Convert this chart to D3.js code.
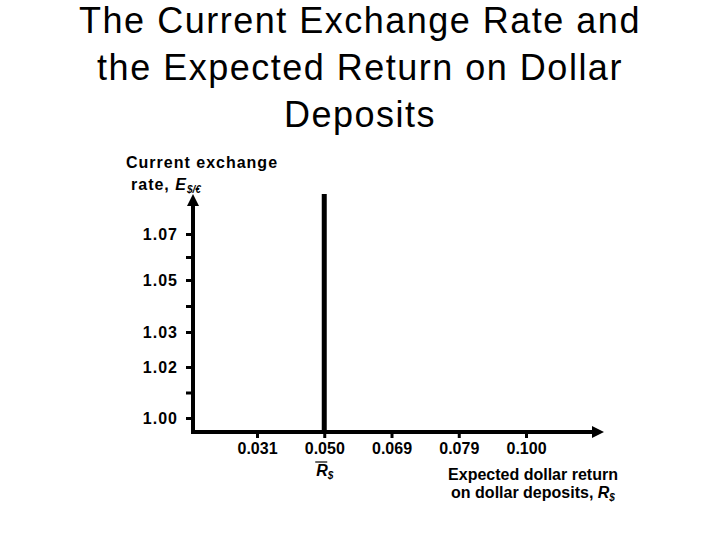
<!DOCTYPE html>
<html>
<head>
<meta charset="utf-8">
<script src="https://cdn.jsdelivr.net/npm/d3@7"></script>
<style>
  body { margin: 0; background: #fff; }
  svg { display: block; font-family: "Liberation Sans", Arial, sans-serif; }
  .axis text { font-size: 16px; font-weight: bold; fill: #000; }
  .y-axis text { letter-spacing: 1px; }
  .axis line { stroke: #000; stroke-width: 3; }
</style>
</head>
<body>
<div id="chart"></div>
<script>
// exchange rate ticks (labelled) and unlabelled minor ticks
const rateTicks = [1.00, 1.02, 1.03, 1.05, 1.07];
const rateMinor = [1.01, 1.04, 1.06];
// expected dollar return ticks
const returnTicks = [0.031, 0.050, 0.069, 0.079, 0.100];
// the dollar deposit return, drawn as a vertical schedule
const dollarReturn = 0.050;

const titleLines = ['The Current Exchange Rate and', 'the Expected Return on Dollar', 'Deposits'];

const width = 720, height = 540;
const origin = {x: 193, y: 432};

const svg = d3.select('#chart')
  .append('svg')
  .attr('width', width)
  .attr('height', height);

// arrow head marker
svg.append('defs').append('marker')
  .attr('id', 'arrow')
  .attr('viewBox', '0 0 10 10')
  .attr('refX', 5).attr('refY', 5)
  .attr('markerWidth', 3).attr('markerHeight', 3)
  .attr('orient', 'auto')
  .append('path')
  .attr('d', 'M0,0L10,5L0,10Z')
  .attr('fill', '#000');

// title
svg.append('text')
  .attr('text-anchor', 'middle')
  .style('font-size', '36px')
  .style('letter-spacing', '1.5px')
  .selectAll('tspan')
  .data(titleLines)
  .join('tspan')
  .attr('x', 360)
  .attr('y', (d, i) => 33 + i * 47)
  .text(d => d);

// the ticks are not evenly spaced on the slide, so the y scale is piecewise
const yScale = d3.scaleLinear()
  .domain(rateTicks)
  .range([418, 367, 332, 280, 234]);

const xScale = d3.scalePoint()
  .domain(returnTicks)
  .range([257, 526]);

const allRate = rateTicks.concat(rateMinor).sort(d3.ascending);

const yAxis = d3.axisLeft(yScale)
  .tickValues(allRate)
  .tickFormat(d => rateTicks.includes(d) ? d.toFixed(2) : '')
  .tickSize(7)
  .tickPadding(8);

const xAxis = d3.axisBottom(xScale)
  .tickFormat(d => d.toFixed(3))
  .tickSize(6)
  .tickPadding(5);

svg.append('g')
  .attr('class', 'axis y-axis')
  .attr('transform', `translate(${origin.x},0)`)
  .call(yAxis)
  .call(g => g.select('.domain').remove());

svg.append('g')
  .attr('class', 'axis x-axis')
  .attr('transform', `translate(0,${origin.y})`)
  .call(xAxis)
  .call(g => g.select('.domain').remove());

// axis lines with arrows
svg.append('line')
  .attr('x1', origin.x).attr('y1', origin.y + 2)
  .attr('x2', origin.x).attr('y2', 200)
  .attr('stroke', '#000').attr('stroke-width', 4)
  .attr('marker-end', 'url(#arrow)');

svg.append('line')
  .attr('x1', origin.x - 2).attr('y1', origin.y)
  .attr('x2', 598).attr('y2', origin.y)
  .attr('stroke', '#000').attr('stroke-width', 4)
  .attr('marker-end', 'url(#arrow)');

// vertical return line
svg.append('line')
  .attr('x1', xScale(dollarReturn)).attr('y1', 194)
  .attr('x2', xScale(dollarReturn)).attr('y2', origin.y)
  .attr('stroke', '#000').attr('stroke-width', 5);

// y axis title
const yTitle = svg.append('g')
  .style('font-size', '16px')
  .style('font-weight', 'bold')
  .style('letter-spacing', '1px');
yTitle.append('text').attr('x', 126).attr('y', 168).text('Current exchange');
const yt2 = yTitle.append('text').attr('x', 131).attr('y', 190);
yt2.append('tspan').text('rate, ');
yt2.append('tspan').style('font-style', 'italic').text('E');
yt2.append('tspan').style('font-style', 'italic').style('font-size', '10px')
  .style('letter-spacing', '0px').attr('dy', 3).text('$/€');

// R$ under the 0.050 tick
const rx = xScale(dollarReturn);
svg.append('line')
  .attr('x1', rx - 9).attr('x2', rx + 3)
  .attr('y1', 462).attr('y2', 462)
  .attr('stroke', '#000').attr('stroke-width', 1.2);
const rLabel = svg.append('text')
  .attr('x', rx - 8).attr('y', 476)
  .style('font-size', '16px').style('font-weight', 'bold').style('font-style', 'italic');
rLabel.append('tspan').text('R');
rLabel.append('tspan').style('font-size', '10px').attr('dy', 3).text('$');

// x axis title
const xTitle = svg.append('text')
  .attr('text-anchor', 'middle')
  .style('font-size', '16px')
  .style('font-weight', 'bold');
xTitle.append('tspan').attr('x', 533).attr('y', 480).text('Expected dollar return');
const xt2 = xTitle.append('tspan').attr('x', 533).attr('y', 498);
xt2.append('tspan').text('on dollar deposits, ');
xt2.append('tspan').style('font-style', 'italic').text('R');
xt2.append('tspan').style('font-style', 'italic').style('font-size', '10px').attr('dy', 3).text('$');
</script>
</body>
</html>
